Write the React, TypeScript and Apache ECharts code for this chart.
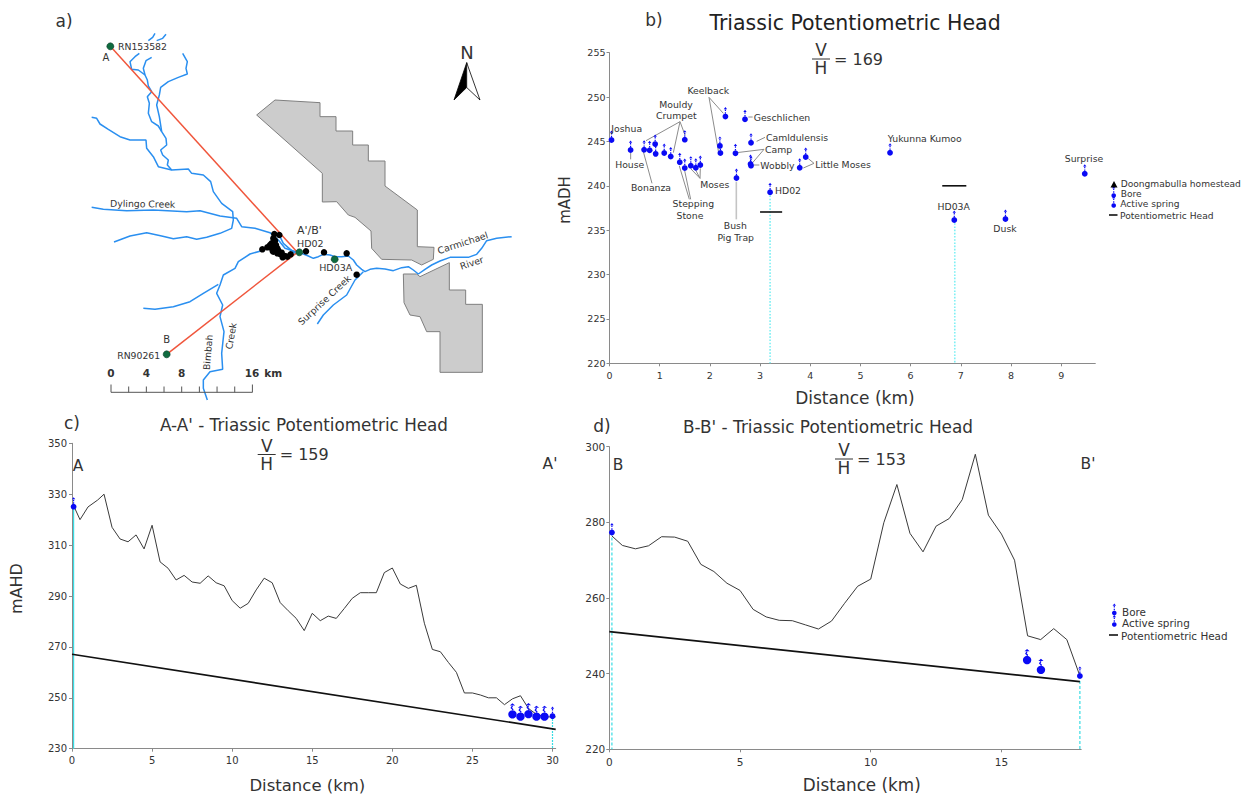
import React, { useEffect, useRef } from "react";
import * as echarts from "echarts";

const FONT = "DejaVu Sans";
const TXT = "#333333";
const BLUE = "#0a0af5";
const AXIS = "#8a8a8a";

// ---------- panel b data ----------
const boresB: number[][] = [
  [0.04, 245.16], [0.42, 244.03], [0.69, 244.07], [0.8, 244.0], [0.91, 244.7], [0.92, 243.6],
  [1.09, 243.7], [1.22, 243.3], [1.5, 245.2], [1.4, 242.65], [1.5, 242.0], [1.62, 242.27],
  [1.72, 242.04], [1.81, 242.34], [2.2, 244.5], [2.21, 243.7], [2.31, 247.8], [2.7, 247.5],
  [2.51, 243.66], [2.82, 244.85], [2.81, 242.46], [2.82, 242.27], [2.53, 240.88], [3.2, 239.27],
  [3.79, 242.04], [3.91, 243.25], [5.59, 243.73], [6.87, 236.15], [7.89, 236.26], [9.47, 241.36],
];
const headHD02: number[][] = [[3.0, 237.05], [3.44, 237.05]];
const headHD03A: number[][] = [[6.63, 240.0], [7.11, 240.0]];
const cyanHD02: number[][] = [[3.2, 239.27], [3.2, 220]];
const cyanHD03A: number[][] = [[6.88, 236.15], [6.88, 220]];
const bXTicks = [0, 1, 2, 3, 4, 5, 6, 7, 8, 9];
const bYTicks = [220, 225, 230, 235, 240, 245, 250, 255];

// ---------- panel c data ----------
const groundC: number[][] = [
  [0.1, 325.5], [0.5, 320], [1, 325], [1.6, 327.7], [2, 330], [2.5, 317], [3, 312.4], [3.5, 311.3], [4, 314],
  [4.5, 308.5], [5, 317.8], [5.5, 303.4], [6, 300.9], [6.5, 296.3], [7, 298.1], [7.5, 295.5], [8, 295],
  [8.5, 297.9], [9, 295.2], [9.5, 294], [10, 288.2], [10.5, 285.2], [11, 287.1], [11.5, 292.4], [12, 297],
  [12.5, 295.2], [13, 287.4], [13.5, 284.2], [14, 281.2], [14.5, 276.4], [15, 283.2], [15.5, 280.3], [16, 282.1],
  [16.5, 281.2], [17, 285.1], [17.5, 289.1], [18, 291.3], [18.5, 291.3], [19, 291.3], [19.5, 299.2], [20, 301],
  [20.5, 294.7], [21, 293], [21.5, 294.2], [22, 279.3], [22.5, 269], [23, 268.1], [23.5, 263.9], [24, 260],
  [24.5, 251.9], [25, 251.9], [25.5, 251.1], [26, 250], [26.5, 250], [27, 247.3], [27.5, 249.6], [28, 250.8],
  [28.5, 245.8], [29, 243.5], [29.5, 242.5], [30, 242.5], [30.2, 242.5],
];
const headC: number[][] = [[0, 267.1], [30.2, 237.6]];
const boresC: number[][] = [[0.1, 325.1], [30, 242.8]];
const springsC: number[][] = [[27.5, 243.5], [28, 242.6], [28.5, 243.6], [29, 242.6], [29.5, 242.6]];
const cyanC1: number[][] = [[0.1, 325.1], [0.1, 230]];
const cyanC2: number[][] = [[30, 242.8], [30, 230]];
const cXTicks = [0, 5, 10, 15, 20, 25, 30];
const cYTicks = [230, 250, 270, 290, 310, 330, 350];

// ---------- panel d data ----------
const groundD: number[][] = [
  [0.1, 276.4], [0.5, 273.9], [1, 273], [1.5, 273.8], [2, 276.2], [2.5, 276.1], [3, 275], [3.5, 268.9], [4, 267],
  [4.5, 263.9], [5, 262], [5.5, 257], [6, 255], [6.5, 254.1], [7, 254], [7.5, 252.9], [8, 251.8], [8.5, 253.9],
  [9, 258.6], [9.5, 263.1], [10, 265], [10.5, 279.9], [11, 290], [11.5, 277.1], [12, 272.2], [12.5, 279], [13, 281],
  [13.5, 286], [14, 298], [14.5, 281.9], [15, 276.9], [15.5, 270], [16, 250], [16.5, 249], [17, 251.9], [17.5, 249],
  [18, 239.4],
];
const headD: number[][] = [[0, 251.1], [18, 237.9]];
const boresD: number[][] = [[0.1, 277.3], [18, 239.4]];
const springsD: number[][] = [[15.98, 243.6], [16.51, 241]];
const cyanD1: number[][] = [[0.1, 277.3], [0.1, 220]];
const cyanD2: number[][] = [[18, 239.4], [18, 220]];
const dXTicks = [0, 5, 10, 15];
const dYTicks = [220, 240, 260, 280, 300];

// ---------- panel a data (map units) ----------
const riversA: number[][][] = [
  [[298, 160], [285, 170], [270, 185], [275, 208], [295, 210], [315, 225], [322, 240], [325, 258], [335, 275], [322, 290], [328, 310], [325, 340], [335, 365], [355, 378], [365, 395], [378, 415], [380, 435], [362, 450], [368, 465], [385, 480], [382, 495], [395, 510]],
  [[335, 172], [318, 182], [310, 205], [315, 225]],
  [[428, 160], [442, 185], [438, 205], [442, 222], [415, 232], [385, 245], [362, 262], [358, 285], [350, 315], [358, 350], [365, 395]],
  [[345, 100], [338, 112], [325, 122]],
  [[378, 103], [368, 115], [350, 122]],
  [[155, 352], [170, 355], [180, 372], [205, 388], [240, 410], [270, 420], [318, 420], [320, 445], [340, 470], [355, 500], [395, 510], [445, 507], [455, 520], [490, 525], [512, 545], [520, 575], [545, 610], [578, 635], [580, 660], [575, 685], [540, 700], [500, 712], [470, 718], [440, 710], [400, 716], [365, 708], [320, 698], [270, 708], [222, 726]],
  [[155, 622], [190, 628], [260, 632], [340, 630], [440, 635], [480, 632], [540, 648], [590, 655], [605, 680], [645, 685], [690, 698], [715, 720], [735, 745], [772, 757]],
  [[715, 700], [730, 730], [765, 760]],
  [[778, 757], [790, 762], [805, 768], [820, 775], [835, 770], [850, 763], [870, 765], [885, 770], [905, 770], [925, 768], [940, 780], [950, 795], [965, 808], [975, 815], [990, 808], [1010, 805], [1035, 807], [1060, 812], [1085, 803], [1105, 800], [1120, 810], [1135, 822], [1155, 808], [1175, 795], [1200, 783], [1230, 772], [1260, 772], [1285, 772], [1310, 763], [1325, 745], [1340, 722], [1370, 715], [1415, 710]],
  [[832, 972], [850, 945], [880, 915], [920, 885], [945, 840], [970, 815]],
  [[665, 752], [630, 762], [595, 785], [585, 805], [550, 825], [540, 855], [530, 880], [548, 915], [540, 950], [552, 995], [545, 1060], [548, 1108], [510, 1115], [490, 1140], [490, 1165], [502, 1200]],
  [[310, 925], [345, 928], [400, 920], [450, 905], [490, 880], [535, 853]],
];
const sectionAA: number[][] = [[211, 139], [772, 757]];
const sectionBB: number[][] = [[380, 1063], [772, 757]];
const tenementUpper: number[][] = [[650, 345], [705, 300], [840, 308], [840, 350], [888, 350], [888, 393], [938, 393], [938, 435], [985, 435], [985, 483], [1035, 483], [1035, 558], [1132, 630], [1132, 740], [1182, 742], [1180, 778], [1145, 795], [1115, 780], [1025, 778], [995, 745], [993, 693], [945, 652], [925, 645], [890, 605], [847, 606], [847, 520]];
const tenementLower: number[][] = [[1090, 822], [1130, 822], [1140, 830], [1228, 788], [1228, 870], [1277, 870], [1277, 913], [1327, 913], [1327, 1117], [1200, 1117], [1200, 995], [1160, 995], [1140, 950], [1110, 945], [1092, 908]];
const springsMap: number[][] = [[703, 702], [718, 705], [700, 715], [705, 722], [695, 730], [690, 735], [682, 742], [667, 748], [700, 745], [712, 745], [698, 752], [700, 755], [712, 760], [725, 758], [720, 762], [735, 768], [728, 772], [742, 770], [752, 763], [708, 735], [692, 742], [715, 752], [798, 754], [852, 757], [920, 760], [950, 824]];
const boresMap: number[][] = [[211, 139], [380, 1063], [778, 757], [884, 778]];

// ---------- drawing helpers ----------
function t(text: string, x: number, y: number, fontSize: number, o: any = {}) {
  return {
    type: "text", x, y, rotation: ((o.rot || 0) * Math.PI) / 180, z: 20,
    style: {
      text, fontSize, fontFamily: FONT, fill: o.fill || TXT, fontWeight: o.weight || "normal",
      align: o.align || "center", verticalAlign: "middle",
    },
  };
}
function ln(x1: number, y1: number, x2: number, y2: number, stroke = "#8c8c8c", lineWidth = 1) {
  return { type: "line", z: 5, shape: { x1, y1, x2, y2 }, style: { stroke, lineWidth } };
}
function fraction(cx: number, yLine: number, value: string, size: number) {
  return [
    t("V", cx, yLine - 9, size),
    t("H", cx, yLine + 9, size),
    ln(cx - 9, yLine, cx + 9, yLine, "#333333", 1),
    t("= " + value, cx + 13, yLine, 16, { align: "left" }),
  ];
}
function markerChildren(x: number, y: number, spring: boolean, r0?: number): any[] {
  const r = r0 || (spring ? 4.2 : 2.9);
  const stem = spring ? 9.5 : 8;
  const w = spring ? 2.6 : 1.7;
  const dash = { stroke: BLUE, lineWidth: 1.2, lineDash: [1.5, 1.2] };
  return [
    { type: "polygon", shape: { points: [[x, y - stem - 1.5], [x - w, y - stem + 0.7], [x + w, y - stem + 0.7]] }, style: { fill: BLUE } },
    spring
      ? { type: "polyline", shape: { points: [[x, y - stem + 1], [x - 1.2, y - stem + 3], [x + 0.3, y - 5], [x, y - r]] }, style: { stroke: BLUE, fill: "none", lineWidth: 1.3 } }
      : { type: "line", shape: { x1: x, y1: y - stem + 1, x2: x, y2: y - r }, style: dash },
    { type: "circle", shape: { cx: x, cy: y, r }, style: { fill: BLUE } },
  ];
}
function markerSeries(data: number[][], spring: boolean, axisIndex: number, name: string) {
  return {
    type: "custom", name, xAxisIndex: axisIndex, yAxisIndex: axisIndex, z: 10, clip: false, data,
    renderItem: (_: any, api: any) => {
      const p = api.coord([api.value(0), api.value(1)]);
      return { type: "group", children: markerChildren(p[0], p[1], spring) };
    },
  };
}
function lineSeries(data: number[][], axisIndex: number, color: string, width: number, type: any = "solid", z = 3) {
  return {
    type: "line", xAxisIndex: axisIndex, yAxisIndex: axisIndex, data, showSymbol: false, symbol: "none", z,
    clip: false, lineStyle: { color, width, type }, silent: true,
  };
}
function polySeries(data: number[][]) {
  return {
    type: "custom", xAxisIndex: 0, yAxisIndex: 0, z: 1, silent: true, data: [0],
    renderItem: (_: any, api: any) => ({
      type: "polygon",
      shape: { points: data.map((p) => api.coord(p)) },
      style: { fill: "#cccccc", stroke: "#7f7f7f", lineWidth: 1 },
    }),
  };
}
function valueAxis(grid: number, min: number, max: number, ticks: number[], size: number, margin: number) {
  return {
    type: "value", gridIndex: grid, min, max,
    splitLine: { show: false },
    axisLine: { show: true, onZero: false, lineStyle: { color: AXIS, width: 1 } },
    axisTick: { show: true, length: 3, customValues: ticks, lineStyle: { color: AXIS } },
    axisLabel: { customValues: ticks, color: TXT, fontSize: size, fontFamily: FONT, margin },
  };
}

// zoom-space point of panel b annotations to page pixels
const lb = (a: number, b: number, c: number, d: number, col = "#8c8c8c", w = 1) =>
  ln(560 + a / 3, b / 3, 560 + c / 3, d / 3, col, w);

function buildGraphic() {
  const L = 9.3;
  const els: any[] = [
    // panel letters
    t("a)", 64, 21, 17), t("b)", 654, 20, 17), t("c)", 72, 423, 17), t("d)", 602, 426, 17),
    // map labels
    t("RN153582", 118, 46.3, 9.3, { align: "left" }),
    t("A", 106, 57.3, 10),
    t("Dylingo Creek", 142.7, 203.7, 9.3, { rot: -1 }),
    t("A'/B'", 309.3, 230, 11),
    t("HD02", 310.3, 243.7, 9.5),
    t("HD03A", 335.7, 267.7, 9.5),
    t("Surprise Creek", 324.3, 300, 9.3, { rot: 43 }),
    t("Carmichael", 462.7, 242.7, 9.3, { rot: 18 }),
    t("River", 471.7, 262.7, 9.3, { rot: 18 }),
    t("Bimbah", 207.7, 352.3, 9.3, { rot: 85 }),
    t("Creek", 231, 336, 9.3, { rot: 80 }),
    t("B", 166.7, 339.3, 10),
    t("RN90261", 138.7, 355.3, 9.3),
    // scale bar
    t("0", 111, 373.3, 10.5, { weight: "bold" }),
    t("4", 146.3, 373.3, 10.5, { weight: "bold" }),
    t("8", 181.7, 373.3, 10.5, { weight: "bold" }),
    t("16", 252, 373.3, 10.5, { weight: "bold" }),
    t("km", 273.3, 373.3, 10.5, { weight: "bold" }),
    ln(111, 392.3, 252.5, 392.3, "#555555", 1),
    // north arrow
    t("N", 467, 52, 18),
    { type: "polygon", z: 6, shape: { points: [[466.7, 62.7], [454, 100], [466.7, 87.5]] }, style: { fill: "#000", stroke: "#000", lineWidth: 0.8 } },
    { type: "polygon", z: 6, shape: { points: [[466.7, 62.7], [480, 100], [466.7, 87.5]] }, style: { fill: "#fff", stroke: "#000", lineWidth: 0.8 } },
    // panel b labels
    t("Keelback", 708.3, 90.3, L), t("Mouldy", 676, 104, L), t("Crumpet", 676.3, 115.7, L),
    t("Joshua", 626.7, 128, L), t("Geschlichen", 753.7, 117, L, { align: "left" }),
    t("Camldulensis", 766, 137, L, { align: "left" }), t("Camp", 765, 149.3, L, { align: "left" }),
    t("Wobbly", 760.3, 165.5, L, { align: "left" }), t("Little Moses", 815.3, 164.7, L, { align: "left" }),
    t("House", 629.7, 164.3, L), t("Bonanza", 651, 187, L), t("Moses", 714.7, 184.3, L),
    t("Stepping", 693.3, 203.7, L), t("Stone", 690, 215.3, L), t("Bush", 735.3, 225.7, L),
    t("Pig Trap", 735.7, 237.3, L), t("HD02", 775, 190.5, L, { align: "left" }),
    t("Yukunna Kumoo", 924.7, 138.7, L), t("Surprise", 1084, 158.7, L), t("HD03A", 953.7, 206.7, L),
    t("Dusk", 1005, 228.7, L),
    // panel b leaders
    lb(447, 292, 490, 340), lb(447, 292, 476, 458), lb(360, 365, 258, 422), lb(360, 365, 340, 458),
    lb(360, 365, 375, 405), lb(250, 455, 276, 550), lb(212, 458, 212, 478), lb(358, 498, 388, 598),
    lb(374, 512, 392, 598), lb(392, 506, 420, 535), lb(421, 505, 420, 535), lb(407, 510, 420, 535),
    lb(529, 545, 529, 658, "#c4c4c4", 1.6), lb(612, 448, 530, 458), lb(612, 448, 578, 488),
    lb(580, 495, 598, 495), lb(590, 424, 615, 412), lb(565, 351, 578, 351), lb(762, 490, 745, 476),
    lb(762, 490, 730, 504),
    // fractions
    ...fraction(821, 59, "169", 17),
    ...fraction(266.7, 454.5, "159", 17),
    ...fraction(844, 459, "153", 17),
    // end letters
    t("A", 78, 466, 15.5), t("A'", 550, 464, 15.5), t("B", 618, 465, 15.5), t("B'", 1088, 464, 15.5),
    // legend b
    { type: "polygon", z: 6, shape: { points: [[1114, 181], [1110.5, 187.5], [1117.5, 187.5]] }, style: { fill: "#000" } },
    t("Doongmabulla homestead", 1120.7, 184.3, 9.1, { align: "left" }),
    { type: "group", z: 6, children: markerChildren(1113.7, 195.5, false, 2.3) },
    t("Bore", 1120.7, 194.2, 9.1, { align: "left" }),
    { type: "group", z: 6, children: markerChildren(1113.7, 205.5, false, 2.3) },
    t("Active spring", 1120.3, 204.3, 9.1, { align: "left" }),
    ln(1109, 215, 1117.5, 215, "#111", 1.6),
    t("Potentiometric Head", 1120, 215.8, 9.15, { align: "left" }),
    // legend d
    { type: "group", z: 6, children: markerChildren(1114.3, 613, false, 2.3) },
    t("Bore", 1122, 612, 10.4, { align: "left" }),
    { type: "group", z: 6, children: markerChildren(1114.3, 624.5, false, 2.3) },
    t("Active spring", 1122, 623, 10.4, { align: "left" }),
    ln(1109, 635, 1118, 635, "#111", 1.6),
    t("Potentiometric Head", 1121, 636, 10.4, { align: "left" }),
  ];
  for (let k = 0; k <= 8; k++) {
    const x = 111 + (k * 141.4) / 8;
    els.push(ln(x, k === 0 || k === 8 ? 384.5 : 386.5, x, 392.3, "#555555", 1));
  }
  return els;
}

export default function App() {
  const ref = useRef<HTMLDivElement>(null);
  useEffect(() => {
    const chart = echarts.init(ref.current!, undefined, { renderer: "svg" });
    const hidden = { show: false, splitLine: { show: false } };
    const nameStyle = { color: TXT, fontSize: 16.8, fontFamily: FONT };

    const xb: any = { ...valueAxis(1, 0, 9.68, bXTicks, 9.5, 7), name: "Distance (km)", nameLocation: "middle", nameGap: 26, nameTextStyle: { ...nameStyle, fontSize: 17, padding: [0, 0, 0, 5] } };
    const yb: any = { ...valueAxis(1, 220, 255, bYTicks, 9.5, 4), name: "mADH", nameLocation: "middle", nameGap: 37, nameTextStyle: { ...nameStyle, fontSize: 15, padding: [0, 0, 0, 16] } };
    const xc: any = { ...valueAxis(2, 0, 30.2, cXTicks, 10, 7), name: "Distance (km)", nameLocation: "middle", nameGap: 28.5, nameTextStyle: { ...nameStyle, fontSize: 16.5, padding: [0, 13, 0, 0] } };
    const yc: any = { ...valueAxis(2, 230, 350, cYTicks, 10, 5), name: "mAHD", nameLocation: "middle", nameGap: 48, nameTextStyle: { ...nameStyle, fontSize: 16, padding: [0, 0, 0, 15] } };
    const xd: any = { ...valueAxis(3, 0, 18.05, dXTicks, 10.5, 7), name: "Distance (km)", nameLocation: "middle", nameGap: 27, nameTextStyle: { ...nameStyle, padding: [0, 0, 0, 33] } };
    const yd: any = { ...valueAxis(3, 220, 300, dYTicks, 10.5, 4) };

    chart.setOption({
      animation: false,
      backgroundColor: "#ffffff",
      title: [
        { text: "Triassic Potentiometric Head", left: 850, top: 7, textAlign: "center", textStyle: { fontFamily: FONT, fontSize: 20.5, fontWeight: "normal", color: "#222" } },
        { text: "A-A' - Triassic Potentiometric Head", left: 299, top: 411, textAlign: "center", textStyle: { fontFamily: FONT, fontSize: 16.8, fontWeight: "normal", color: TXT } },
        { text: "B-B' - Triassic Potentiometric Head", left: 823, top: 413, textAlign: "center", textStyle: { fontFamily: FONT, fontSize: 16.9, fontWeight: "normal", color: TXT } },
      ],
      grid: [
        { left: 40, top: 0, width: 500, height: 410, outerBoundsMode: "none" },
        { left: 609.5, top: 52.7, width: 485.8, height: 310.6, outerBoundsMode: "none" },
        { left: 72, top: 443.3, width: 483.7, height: 305.4, outerBoundsMode: "none" },
        { left: 609.3, top: 446.7, width: 471.9, height: 302.6, outerBoundsMode: "none" },
      ],
      xAxis: [{ type: "value", gridIndex: 0, min: 0, max: 1500, ...hidden }, xb, xc, xd],
      yAxis: [{ type: "value", gridIndex: 0, min: 0, max: 1230, inverse: true, ...hidden }, yb, yc, yd],
      graphic: { elements: buildGraphic() },
      series: [
        polySeries(tenementUpper),
        polySeries(tenementLower),
        ...riversA.map((r) => lineSeries(r, 0, "#2a8ff0", 1.5)),
        lineSeries(sectionAA, 0, "#f0563c", 1.5, "solid", 4),
        lineSeries(sectionBB, 0, "#f0563c", 1.5, "solid", 4),
        { type: "scatter", xAxisIndex: 0, yAxisIndex: 0, data: springsMap, symbolSize: 6.5, itemStyle: { color: "#000", opacity: 1 }, z: 6, silent: true },
        { type: "scatter", xAxisIndex: 0, yAxisIndex: 0, data: boresMap, symbolSize: 7, itemStyle: { color: "#0f6b3f", borderColor: "#0b3d2a", borderWidth: 0.6, opacity: 1 }, z: 7, silent: true },

        lineSeries(cyanHD02, 1, "#7ff0f4", 1.6, "dotted", 2),
        lineSeries(cyanHD03A, 1, "#7ff0f4", 1.6, "dotted", 2),
        lineSeries(headHD02, 1, "#111111", 1.6),
        lineSeries(headHD03A, 1, "#111111", 1.6),
        markerSeries(boresB, false, 1, "Bore"),

        lineSeries(cyanC1, 2, "#38dce4", 1.2, "solid", 2),
        lineSeries(cyanC2, 2, "#38dce4", 1.2, [2, 1], 2),
        lineSeries(groundC, 2, "#3a3a3a", 1),
        lineSeries(headC, 2, "#111111", 1.7),
        markerSeries(boresC, false, 2, "Bore"),
        markerSeries(springsC, true, 2, "Active spring"),

        lineSeries(cyanD1, 3, "#38dce4", 1.2, [3, 2], 2),
        lineSeries(cyanD2, 3, "#38dce4", 1.2, [3, 2], 2),
        lineSeries(groundD, 3, "#3a3a3a", 1),
        lineSeries(headD, 3, "#111111", 1.7),
        markerSeries(boresD, false, 3, "Bore"),
        markerSeries(springsD, true, 3, "Active spring"),
      ],
    });
    return () => chart.dispose();
  }, []);
  return <div ref={ref} style={{ position: "fixed", left: 0, top: 0, width: 1246, height: 796, background: "#fff" }} />;
}
